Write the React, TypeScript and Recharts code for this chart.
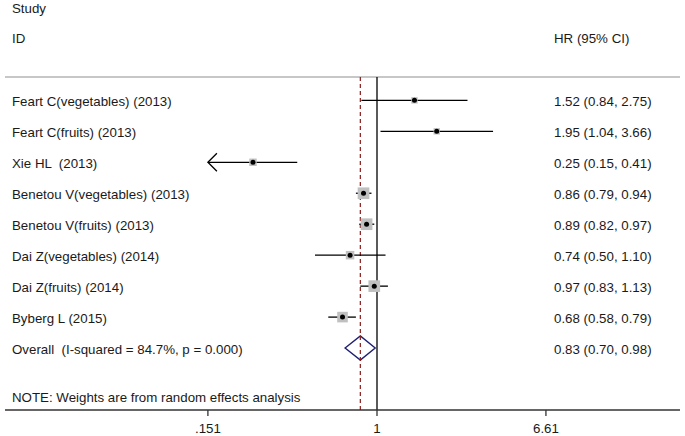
import {
  ComposedChart, Scatter, XAxis, YAxis, ReferenceLine, ReferenceArea, ReferenceDot
} from 'recharts'

const studies = [
  'Feart C(vegetables) (2013)',
  'Feart C(fruits) (2013)',
  'Xie HL  (2013)',
  'Benetou V(vegetables) (2013)',
  'Benetou V(fruits) (2013)',
  'Dai Z(vegetables) (2014)',
  'Dai Z(fruits) (2014)',
  'Byberg L (2015)',
]
const hr = [1.52, 1.95, 0.25, 0.86, 0.89, 0.74, 0.97, 0.68]
const ciLow = [0.84, 1.04, 0.15, 0.79, 0.82, 0.50, 0.83, 0.58]
const ciHigh = [2.75, 3.66, 0.41, 0.94, 0.97, 1.10, 1.13, 0.79]
const weights = [5.6, 5.6, 7.6, 18.7, 18.7, 9.9, 18.7, 15.4]

const overallLabel = 'Overall  (I-squared = 84.7%, p = 0.000)'
const overallHr = 0.83
const overallLow = 0.70
const overallHigh = 0.98

const axisTicks = [0.151, 1, 6.61]
const axisTickLabels = ['.151', '1', '6.61']
const note = 'NOTE: Weights are from random effects analysis'

const FONT = '"Liberation Sans", Arial, sans-serif'
const TEXT = '#1a1a1a'
const FS = 13.3

const fmt = (v: number) => v.toFixed(2)
const ln = Math.log
const xMin = ln(axisTicks[0])
const overallRow = studies.length
const noteRow = studies.length + 1.57

const studyRows = studies.map((s, i) => ({
  x: ln(hr[i]), y: i, w: weights[i],
  left: s, right: `${fmt(hr[i])} (${fmt(ciLow[i])}, ${fmt(ciHigh[i])})`,
}))
const textRows = [
  ...studyRows,
  { x: 0, y: overallRow, w: 0, left: overallLabel, right: `${fmt(overallHr)} (${fmt(overallLow)}, ${fmt(overallHigh)})` },
  { x: 0, y: noteRow, w: 0, left: note, right: '' },
]

const TextShape = (p: any) => (
  <g>
    <text x={12} y={p.cy + 5.5} fontSize={FS} fontFamily={FONT} fill={TEXT} style={{ whiteSpace: 'pre' }}>{p.payload.left}</text>
    <text x={554} y={p.cy + 5.5} fontSize={FS} fontFamily={FONT} fill={TEXT}>{p.payload.right}</text>
  </g>
)

const BoxShape = (p: any) => {
  const s = Math.sqrt(p.payload.w) * 2.7
  return (
    <g>
      <rect x={p.cx - s / 2} y={p.cy - s / 2} width={s} height={s} fill="#c0c0c0" />
      <circle cx={p.cx} cy={p.cy} r={2.5} fill="#000" />
    </g>
  )
}

const ArrowShape = (p: any) => (
  <path d={`M${p.cx + 9},${p.cy - 9} L${p.cx},${p.cy} L${p.cx + 9},${p.cy + 9}`} stroke="#000" strokeWidth={1.3} fill="none" />
)

const frac = (ln(overallHr) - ln(overallLow)) / (ln(overallHigh) - ln(overallLow))
const DiamondShape = (p: any) => {
  const x = p.x, w = p.width, y = p.y, h = p.height
  const mx = x + w * frac
  return (
    <path d={`M${x},${y + h / 2} L${mx},${y} L${x + w},${y + h / 2} L${mx},${y + h} Z`}
      stroke="#1f1f73" strokeWidth={1.4} fill="none" />
  )
}

export default function App() {
  return (
    <div style={{ position: 'absolute', left: 0, top: 0, width: 685, height: 436, background: '#fff' }}>
      <ComposedChart width={685} height={436} margin={{ top: 77, right: 5, left: 5, bottom: 0 }}>
        <XAxis
          type="number" dataKey="x" domain={[-4.1588, 3.3874]} allowDataOverflow
          ticks={axisTicks.map(ln)}
          tickFormatter={(v: number) => axisTickLabels[axisTicks.map(ln).findIndex(t => Math.abs(t - v) < 1e-6)]}
          height={26} tickSize={6} tickMargin={8}
          axisLine={{ stroke: '#333', strokeWidth: 1.3 }}
          tickLine={{ stroke: '#333', strokeWidth: 1.3 }}
          tick={{ fill: TEXT, fontSize: FS, fontFamily: FONT }}
        />
        <YAxis type="number" dataKey="y" domain={[-0.754, 10]} reversed hide allowDataOverflow />
        <ReferenceLine y={-0.754} stroke="#b4b4b4" strokeWidth={1.3} />
        <ReferenceLine x={0} stroke="#000" strokeWidth={1.3} />
        <ReferenceLine x={ln(overallHr)} stroke="#8b1a1a" strokeWidth={1.2} strokeDasharray="4 3" />
        {studyRows.map((r, i) => (
          <ReferenceLine key={'ci' + i}
            segment={[{ x: ln(Math.max(ciLow[i], axisTicks[0])), y: r.y }, { x: ln(ciHigh[i]), y: r.y }]}
            stroke="#000" strokeWidth={1.3} />
        ))}
        {studyRows.filter((_, i) => ciLow[i] < axisTicks[0]).map((r, i) => (
          <ReferenceDot key={'ar' + i} x={xMin} y={r.y} shape={ArrowShape} />
        ))}
        <ReferenceArea x1={ln(overallLow)} x2={ln(overallHigh)} y1={overallRow - 0.39} y2={overallRow + 0.39}
          shape={DiamondShape} />
        <Scatter data={studyRows} shape={BoxShape} isAnimationActive={false} />
        <Scatter data={textRows} shape={TextShape} isAnimationActive={false} />
      </ComposedChart>
      <svg width={685} height={60} style={{ position: 'absolute', left: 0, top: 0, pointerEvents: 'none' }}>
        <text x={12} y={13} fontSize={FS} fontFamily={FONT} fill={TEXT}>Study</text>
        <text x={12} y={43} fontSize={FS} fontFamily={FONT} fill={TEXT}>ID</text>
        <text x={554} y={43} fontSize={FS} fontFamily={FONT} fill={TEXT}>HR (95% CI)</text>
      </svg>
    </div>
  )
}
